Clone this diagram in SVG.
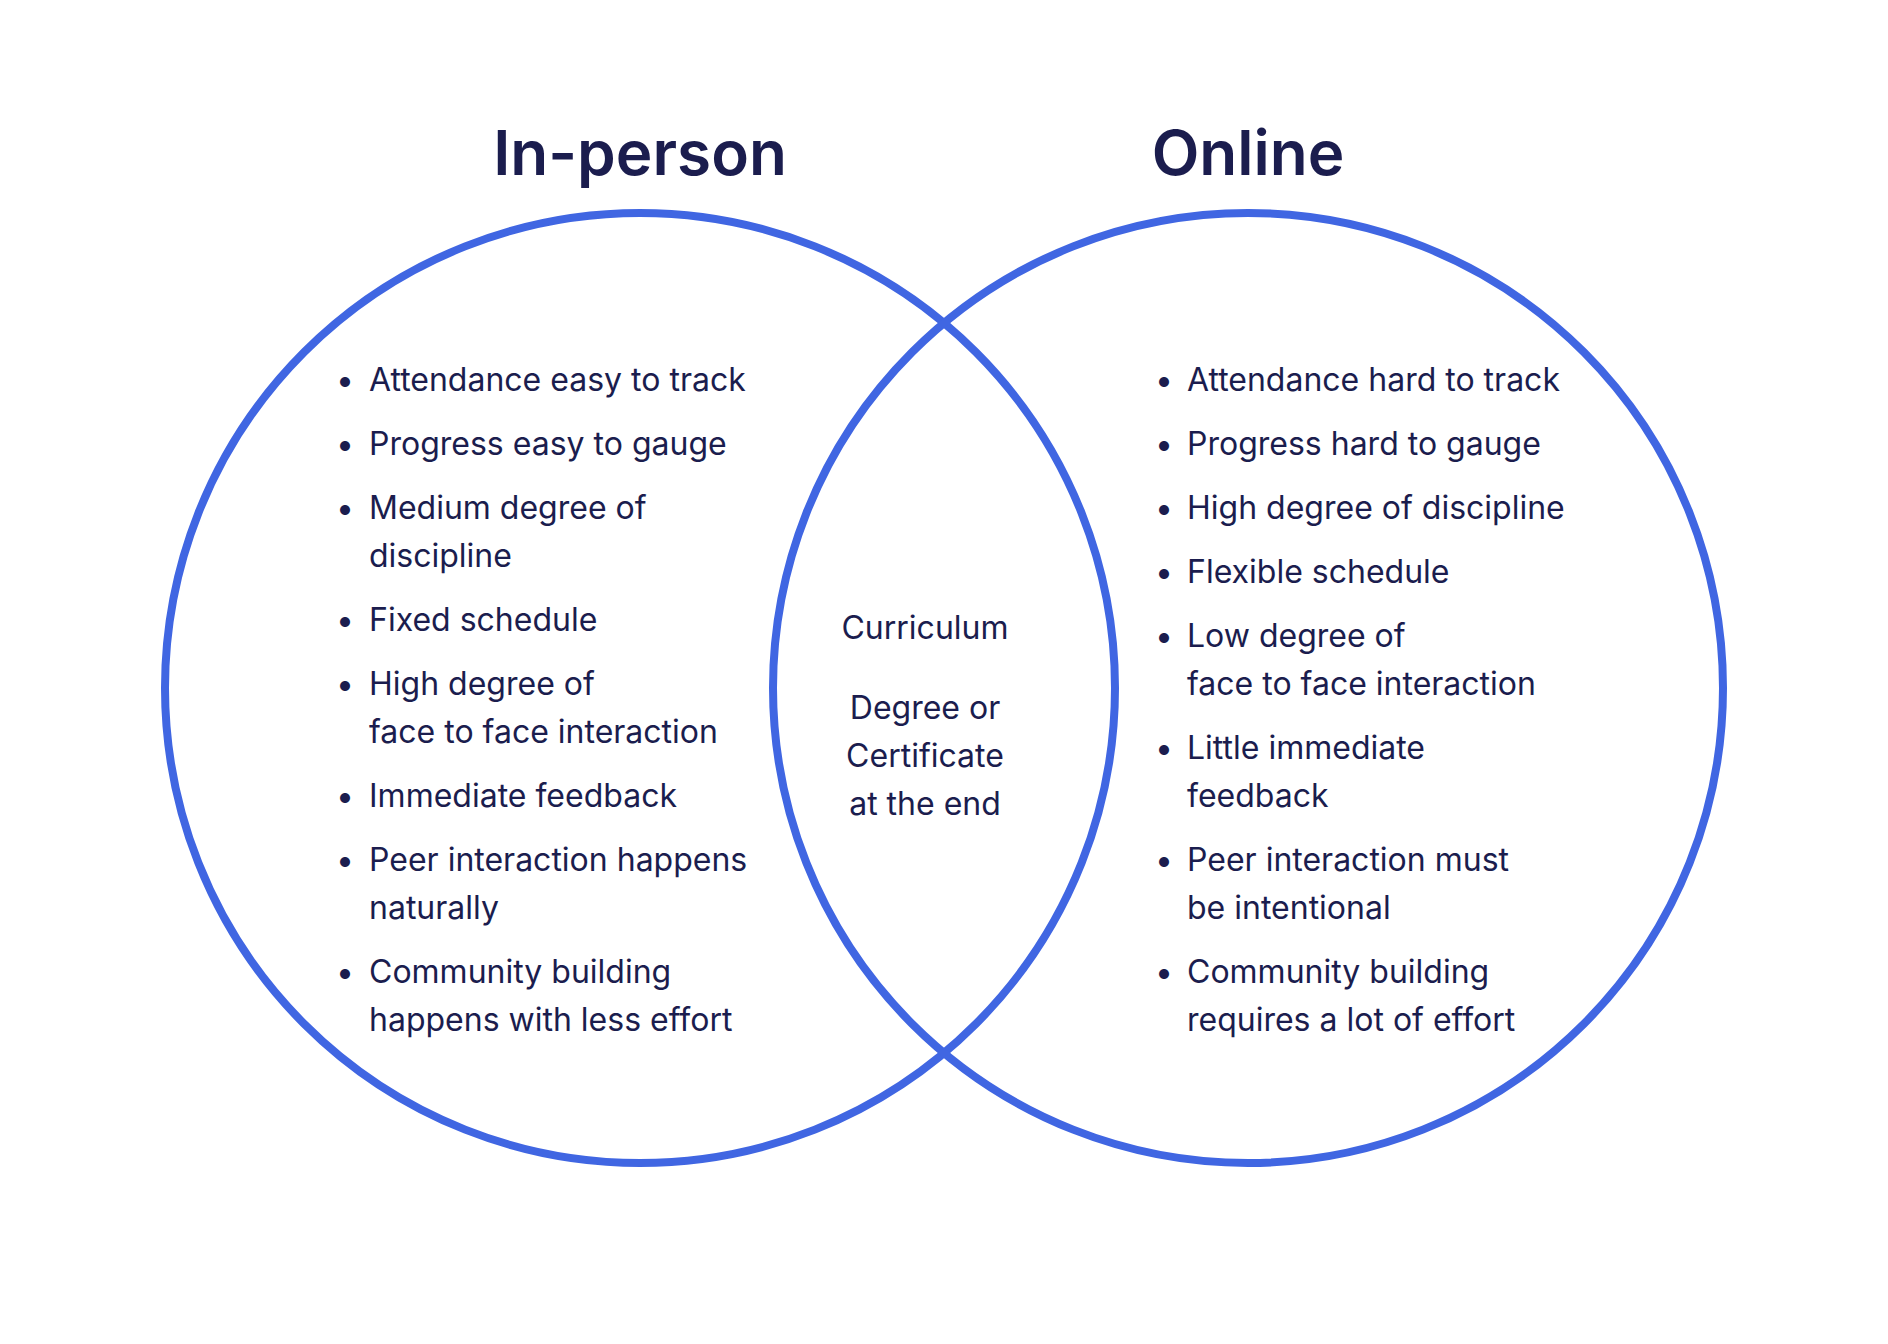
<svg xmlns="http://www.w3.org/2000/svg" width="1888" height="1344" viewBox="0 0 1888 1344">
<style>
.ring{fill:none;stroke:#4066E2;stroke-width:8}
.t{font-family:Inter,"Noto Sans",sans-serif;font-size:32px;fill:#1b1d4e}
.h{font-family:Inter,"Noto Sans",sans-serif;font-size:62px;font-weight:600;fill:#1b1d4e;text-anchor:middle}
.c{text-anchor:middle}
</style>
<rect width="1888" height="1344" fill="#ffffff"/>
<g id="connectors"></g>
<g id="in-person">
<circle class="ring" cx="640" cy="688" r="475"/>
<text class="h" x="640" y="175">In-person</text>
<g class="t">
<text x="336" y="391">•</text><text x="369" y="391">Attendance easy to track</text>
<text x="336" y="455">•</text><text x="369" y="455">Progress easy to gauge</text>
<text x="336" y="519">•</text><text x="369" y="519">Medium degree of</text><text x="369" y="567">discipline</text>
<text x="336" y="631">•</text><text x="369" y="631">Fixed schedule</text>
<text x="336" y="695">•</text><text x="369" y="695">High degree of</text><text x="369" y="743">face to face interaction</text>
<text x="336" y="807">•</text><text x="369" y="807">Immediate feedback</text>
<text x="336" y="871">•</text><text x="369" y="871">Peer interaction happens</text><text x="369" y="919">naturally</text>
<text x="336" y="983">•</text><text x="369" y="983">Community building</text><text x="369" y="1031">happens with less effort</text>
</g>
</g>
<g id="online">
<circle class="ring" cx="1248" cy="688" r="475"/>
<text class="h" x="1248" y="175">Online</text>
<g class="t">
<text x="1155" y="391">•</text><text x="1187" y="391">Attendance hard to track</text>
<text x="1155" y="455">•</text><text x="1187" y="455">Progress hard to gauge</text>
<text x="1155" y="519">•</text><text x="1187" y="519">High degree of discipline</text>
<text x="1155" y="583">•</text><text x="1187" y="583">Flexible schedule</text>
<text x="1155" y="647">•</text><text x="1187" y="647">Low degree of</text><text x="1187" y="695">face to face interaction</text>
<text x="1155" y="759">•</text><text x="1187" y="759">Little immediate</text><text x="1187" y="807">feedback</text>
<text x="1155" y="871">•</text><text x="1187" y="871">Peer interaction must</text><text x="1187" y="919">be intentional</text>
<text x="1155" y="983">•</text><text x="1187" y="983">Community building</text><text x="1187" y="1031">requires a lot of effort</text>
</g>
</g>
<g id="overlap">
<g class="t c">
<text x="925" y="639">Curriculum</text>
<text x="925" y="719">Degree or</text>
<text x="925" y="767">Certificate</text>
<text x="925" y="815">at the end</text>
</g>
</g>
</svg>
